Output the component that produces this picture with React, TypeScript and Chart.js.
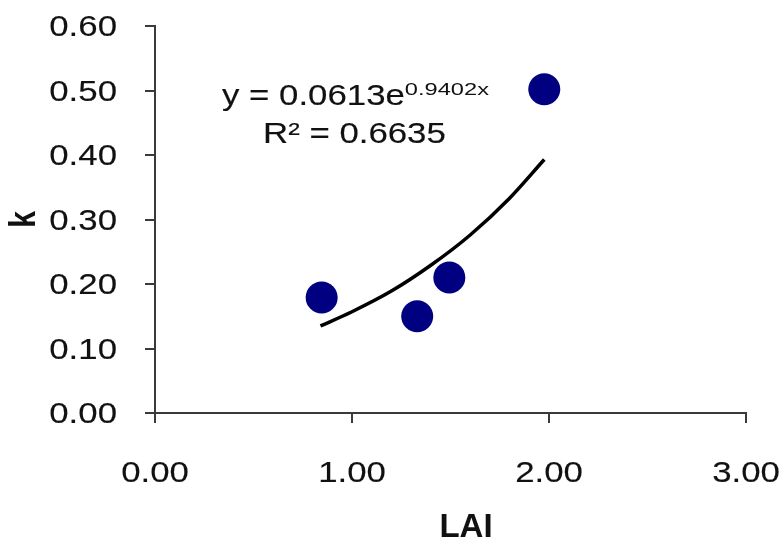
import React, { useEffect, useRef } from "react";
import { Chart, registerables } from "chart.js";

Chart.register(...registerables);

// Observed data (LAI vs k)
const laiValues = [0.846, 1.331, 1.494, 1.976];
const kValues = [0.179, 0.15, 0.21, 0.502];

// Exponential trendline (y = 0.0613e^0.9402x)
const trendLai = [0.84, 1.0, 1.2, 1.4, 1.6, 1.8, 1.976];
const trendK = [0.135, 0.157, 0.189, 0.229, 0.276, 0.333, 0.393];

// Axis ticks
const xTickValues = [0, 1, 2, 3];
const xTickLabels = ["0.00", "1.00", "2.00", "3.00"];
const yTickValues = [0, 0.1, 0.2, 0.3, 0.4, 0.5, 0.6];
const yTickLabels = ["0.00", "0.10", "0.20", "0.30", "0.40", "0.50", "0.60"];

const xTitle = "LAI";
const yTitle = "k";
const equationMain = "y = 0.0613e";
const equationExp = "0.9402x";
const rSquared = "R² = 0.6635";

const FONT = "Arial, 'Liberation Sans', sans-serif";
const STRETCH = 1.2;

function drawText(
  ctx: CanvasRenderingContext2D,
  text: string,
  x: number,
  y: number,
  font: string,
  align: CanvasTextAlign,
  sx: number,
  rotate = 0,
  stroke = 0.15
) {
  ctx.save();
  ctx.translate(x, y);
  ctx.scale(sx, 1);
  if (rotate) ctx.rotate(rotate);
  ctx.font = font;
  ctx.textAlign = align;
  ctx.textBaseline = rotate ? "middle" : "alphabetic";
  ctx.fillStyle = "#111";
  ctx.fillText(text, 0, 0);
  if (stroke > 0) {
    ctx.strokeStyle = "#111";
    ctx.lineWidth = stroke;
    ctx.strokeText(text, 0, 0);
  }
  ctx.restore();
}

const textPlugin = {
  id: "textPlugin",
  afterDraw(chart: any) {
    const ctx = chart.ctx as CanvasRenderingContext2D;
    const xs = chart.scales.x;
    const ys = chart.scales.y;
    const tickFont = `29px ${FONT}`;
    xTickValues.forEach((v, i) => {
      drawText(ctx, xTickLabels[i], xs.getPixelForValue(v), 482, tickFont, "center", STRETCH);
    });
    yTickValues.forEach((v, i) => {
      drawText(ctx, yTickLabels[i], 117, ys.getPixelForValue(v) + 10, tickFont, "right", STRETCH);
    });
    // axis titles
    drawText(ctx, xTitle, 466, 537, `bold 33px ${FONT}`, "center", 1, 0, 0);
    drawText(ctx, yTitle, 25, (chart.chartArea.top + chart.chartArea.bottom) / 2, `bold 30px ${FONT}`, "center", 1.24, -Math.PI / 2, 0);
    // equation
    ctx.save();
    ctx.font = tickFont;
    const w = ctx.measureText(equationMain).width * STRETCH;
    ctx.restore();
    drawText(ctx, equationMain, 222, 105, tickFont, "left", STRETCH);
    drawText(ctx, equationExp, 222 + w, 95, `17px ${FONT}`, "left", 1.39, 0, 0);
    drawText(ctx, rSquared, 263, 143, tickFont, "left", STRETCH);
  },
};

export default function App() {
  const ref = useRef<HTMLCanvasElement>(null);
  useEffect(() => {
    if (!ref.current) return;
    const axisColor = "#3a3a3a";
    const chart = new Chart(ref.current, {
      type: "scatter",
      data: {
        datasets: [
          {
            label: "Trend",
            data: trendLai.map((x, i) => ({ x, y: trendK[i] })),
            showLine: true,
            borderColor: "#000",
            borderWidth: 3.5,
            pointRadius: 0,
            cubicInterpolationMode: "monotone",
            order: 0,
          },
          {
            label: "k",
            data: laiValues.map((x, i) => ({ x, y: kValues[i] })),
            backgroundColor: "#000080",
            borderWidth: 0,
            pointRadius: 16,
            order: 1,
          },
        ],
      } as any,
      options: {
        animation: false,
        responsive: false,
        devicePixelRatio: 1,
        layout: { padding: { left: 0, right: 37, top: 26, bottom: 0 } },
        plugins: { legend: { display: false }, tooltip: { enabled: false } },
        scales: {
          x: {
            type: "linear",
            min: 0,
            max: 3,
            ticks: { display: false, stepSize: 1 },
            grid: { drawOnChartArea: false, drawTicks: true, tickLength: 10, color: axisColor, lineWidth: 2 },
            border: { display: true, color: axisColor, width: 2 },
            afterFit: (s: any) => {
              s.height = 132;
            },
          },
          y: {
            type: "linear",
            min: 0,
            max: 0.6,
            ticks: { display: false, stepSize: 0.1 },
            grid: { drawOnChartArea: false, drawTicks: true, tickLength: 10, color: axisColor, lineWidth: 2 },
            border: { display: true, color: axisColor, width: 2 },
            afterFit: (s: any) => {
              s.width = 155;
            },
          },
        },
      } as any,
      plugins: [textPlugin],
    });
    return () => chart.destroy();
  }, []);
  return (
    <div style={{ position: "absolute", left: 0, top: 0, width: 783, height: 545, background: "#fff" }}>
      <canvas ref={ref} width={783} height={545} />
    </div>
  );
}
